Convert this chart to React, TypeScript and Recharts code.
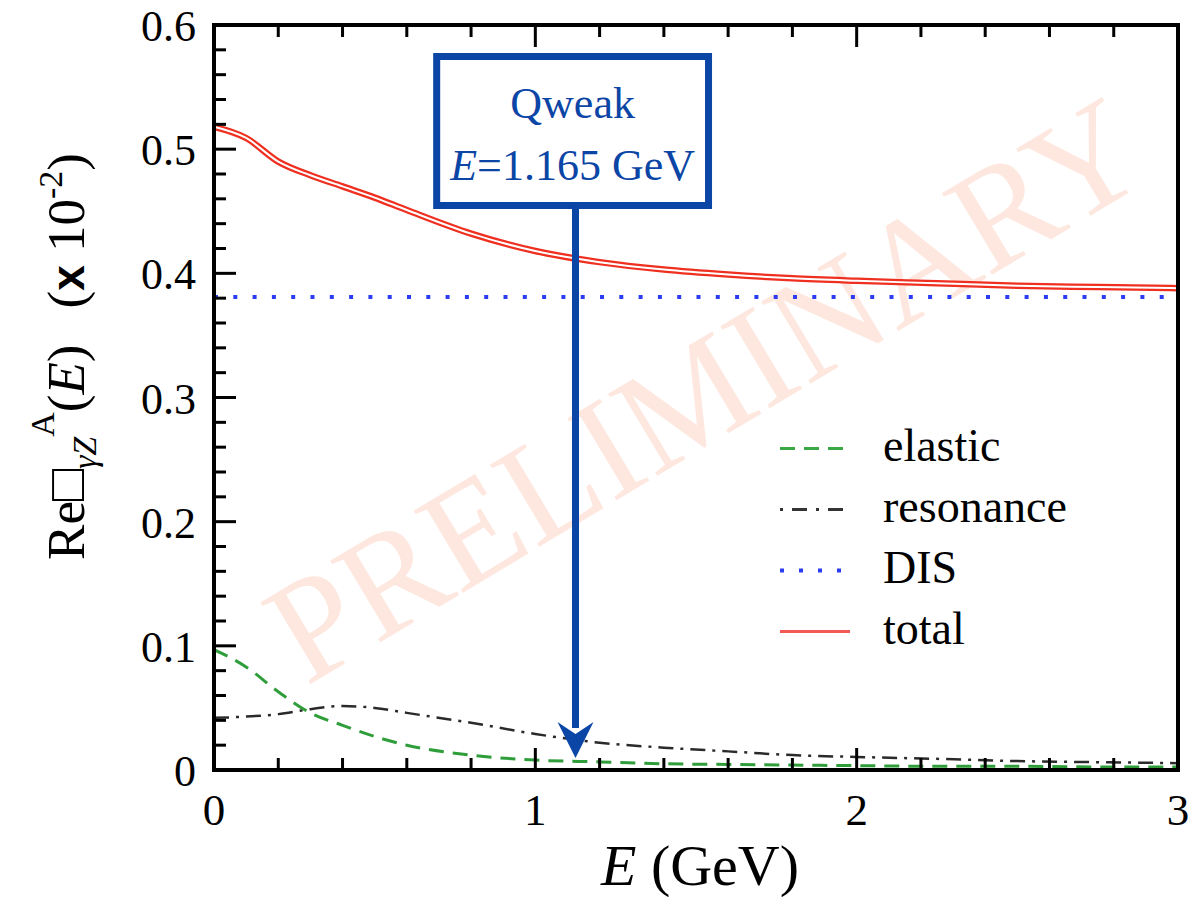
import React from 'react'
import {
  LineChart,
  Line,
  XAxis,
  YAxis,
  Legend,
  ReferenceArea,
  ReferenceLine,
} from 'recharts'

// Re box_gammaZ^A(E) contributions, in units of 1e-2
const E_GEV = [0, 0.1, 0.2, 0.3, 0.4, 0.5, 0.6, 0.8, 1.0, 1.2, 1.4, 1.6, 1.8, 2.0, 2.25, 2.5, 2.75, 3.0]
const ELASTIC = [0.097, 0.083, 0.063, 0.046, 0.036, 0.027, 0.02, 0.012, 0.008, 0.0065, 0.005, 0.0045, 0.004, 0.0035, 0.003, 0.003, 0.0025, 0.0025]
const RESONANCE = [0.042, 0.043, 0.045, 0.049, 0.0515, 0.05, 0.046, 0.038, 0.029, 0.022, 0.018, 0.015, 0.012, 0.0105, 0.009, 0.0072, 0.0063, 0.0055]
const DIS = [0.381, 0.381, 0.381, 0.381, 0.381, 0.381, 0.381, 0.381, 0.381, 0.381, 0.381, 0.381, 0.381, 0.381, 0.381, 0.381, 0.381, 0.381]
const TOTAL = [0.518, 0.509, 0.49, 0.479, 0.47, 0.461, 0.451, 0.432, 0.418, 0.409, 0.403, 0.399, 0.396, 0.394, 0.392, 0.39, 0.389, 0.388]

const X_TICKS = [0, 0.2, 0.4, 0.6, 0.8, 1, 1.2, 1.4, 1.6, 1.8, 2, 2.2, 2.4, 2.6, 2.8, 3]
const Y_TICKS = [
  0, 0.02, 0.04, 0.06, 0.08, 0.1, 0.12, 0.14, 0.16, 0.18, 0.2, 0.22, 0.24, 0.26, 0.28, 0.3,
  0.32, 0.34, 0.36, 0.38, 0.4, 0.42, 0.44, 0.46, 0.48, 0.5, 0.52, 0.54, 0.56, 0.58, 0.6,
]

// Qweak annotation (box + arrow), data coords
const QWEAK_E = 1.125
const QWEAK_BOX = { x1: 0.693, x2: 1.539, y1: 0.4546, y2: 0.5746 }
const QWEAK_TIP = 0.0097

const data = E_GEV.map((e, i) => ({
  E: e,
  elastic: ELASTIC[i],
  resonance: RESONANCE[i],
  dis: DIS[i],
  total: TOTAL[i],
}))

const SERIF = '"Liberation Serif", "Times New Roman", serif'
const BLUE = '#0b45a6'
const RED = '#ef2f1f'

const LEGEND_ITEMS = [
  { label: 'elastic', color: '#3aa845', dash: '15 9', width: 3 },
  { label: 'resonance', color: '#333333', dash: '3 9 15 9', width: 3 },
  { label: 'DIS', color: '#2c3cf2', dash: '4 15', width: 4 },
  { label: 'total', color: '#f45a55', dash: undefined, width: 3 },
]

const isMajor = (v: number, step: number) => Math.abs(v / step - Math.round(v / step)) < 1e-6

// inward tick marks; labels only on bottom/left
// eslint-disable-next-line @typescript-eslint/no-explicit-any
function TickMark(props: any) {
  const { x, y, payload, side } = props
  const v = payload.value as number
  const major = side === 'bottom' || side === 'top' ? isMajor(v, 1) : isMajor(v, 0.1)
  const len = major ? 22 : 12
  const ln = { stroke: '#000', strokeWidth: 3 }
  if (side === 'bottom') {
    return (
      <g>
        <line x1={x} y1={y} x2={x} y2={y - len} {...ln} />
        {major && (
          <text x={x} y={y + 55} textAnchor="middle" fontFamily={SERIF} fontSize={45} fill="#000">
            {v}
          </text>
        )}
      </g>
    )
  }
  if (side === 'top') return <line x1={x} y1={y} x2={x} y2={y + len} {...ln} />
  if (side === 'right') return <line x1={x} y1={y} x2={x - len} y2={y} {...ln} />
  return (
    <g>
      <line x1={x} y1={y} x2={x + len} y2={y} {...ln} />
      {major && (
        <text x={x - 18} y={y + 16} textAnchor="end" fontFamily={SERIF} fontSize={44} fill="#000">
          {v === 0 ? '0' : v.toFixed(1)}
        </text>
      )}
    </g>
  )
}

// eslint-disable-next-line @typescript-eslint/no-explicit-any
function YLabel(props: any) {
  const vb = props.viewBox || { x: 213, y: 26, height: 744 }
  const cx = vb.x - 129
  const cy = vb.y + vb.height / 2 - 41
  return (
    <text
      x={cx}
      y={cy}
      transform={`rotate(-90, ${cx}, ${cy})`}
      textAnchor="middle"
      fontFamily={SERIF}
      fontSize={53}
      fill="#000"
    >
      <tspan>Re□</tspan>
      <tspan fontStyle="italic" fontSize={34} dy={12}>γZ</tspan>
      <tspan fontSize={34} dy={-42}>A</tspan>
      <tspan dy={30}>(</tspan>
      <tspan fontStyle="italic">E</tspan>
      <tspan>)</tspan>
      <tspan dx={36}>(</tspan>
      <tspan fontWeight="bold" fontFamily='"Liberation Sans", Arial, sans-serif' fontSize={46}>x</tspan>
      <tspan> 10</tspan>
      <tspan fontSize={34} dy={-22}>-2</tspan>
      <tspan dy={22}>)</tspan>
    </text>
  )
}

// eslint-disable-next-line @typescript-eslint/no-explicit-any
function XLabel(props: any) {
  const vb = props.viewBox || { x: 214, y: 770, width: 964 }
  return (
    <text x={vb.x + vb.width / 2 + 4} y={vb.y + 115} textAnchor="middle" fontFamily={SERIF} fontSize={58} fill="#000">
      <tspan fontStyle="italic">E</tspan>
      <tspan> (GeV)</tspan>
    </text>
  )
}

// eslint-disable-next-line @typescript-eslint/no-explicit-any
function BoxLabel(props: any) {
  const { x, y, width, height } = props.viewBox
  const cx = x + width / 2
  return (
    <g fontFamily={SERIF} fontSize={44} fill={BLUE}>
      <text x={cx} y={y + height * 0.41} textAnchor="middle">Qweak</text>
      <text x={cx} y={y + height * 0.83} textAnchor="middle">
        <tspan fontStyle="italic">E</tspan>
        <tspan>=1.165 GeV</tspan>
      </text>
    </g>
  )
}

// eslint-disable-next-line @typescript-eslint/no-explicit-any
function Arrow(props: any) {
  const { x1, y1, y2 } = props
  const head = 36
  return (
    <g>
      <line x1={x1} y1={y1} x2={x1} y2={y2 - head + 6} stroke={BLUE} strokeWidth={7} />
      <polygon
        points={`${x1 - 18},${y2 - head} ${x1},${y2 - head + 12} ${x1 + 18},${y2 - head} ${x1},${y2}`}
        fill={BLUE}
      />
    </g>
  )
}

function LegendBox() {
  return (
    <div style={{ fontFamily: SERIF, fontSize: 46, color: '#000' }}>
      {LEGEND_ITEMS.map(it => (
        <div key={it.label} style={{ display: 'flex', alignItems: 'center', height: 61 }}>
          <svg width={105} height={61} style={{ display: 'block' }}>
            <line x1={2} y1={30.5} x2={72} y2={30.5} stroke={it.color} strokeWidth={it.width} strokeDasharray={it.dash} />
          </svg>
          <span style={{ lineHeight: '61px', marginTop: -6 }}>{it.label}</span>
        </div>
      ))}
    </div>
  )
}

export default function App() {
  const axisLine = { stroke: '#000', strokeWidth: 4, strokeLinecap: 'square' as const }
  return (
    <div style={{ position: 'absolute', left: 0, top: 0, width: 1189, height: 897, background: '#fff', overflow: 'hidden' }}>
      {/* watermark */}
      <div
        style={{
          position: 'absolute',
          left: 705,
          top: 390,
          transform: 'translate(-50%, -50%) rotate(-31deg)',
          fontFamily: SERIF,
          fontSize: 146,
          color: '#fde7df',
          whiteSpace: 'nowrap',
          lineHeight: 1,
        }}
      >
        PRELIMINARY
      </div>
      <div style={{ position: 'absolute', left: 0, top: 0 }}>
        <LineChart width={1189} height={897} data={data} margin={{ top: 24, right: 10, bottom: 126, left: 213 }}>
          <XAxis
            xAxisId="b"
            dataKey="E"
            type="number"
            domain={[0, 3]}
            ticks={X_TICKS}
            interval={0}
            height={1}
            tickSize={0}
            tickMargin={0}
            tickLine={false}
            axisLine={axisLine}
            tick={<TickMark side="bottom" />}
            label={<XLabel />}
          />
          <XAxis
            xAxisId="t"
            orientation="top"
            dataKey="E"
            type="number"
            domain={[0, 3]}
            ticks={X_TICKS}
            interval={0}
            height={1}
            tickSize={0}
            tickMargin={0}
            tickLine={false}
            axisLine={axisLine}
            tick={<TickMark side="top" />}
          />
          <YAxis
            yAxisId="l"
            type="number"
            domain={[0, 0.6]}
            ticks={Y_TICKS}
            interval={0}
            width={1}
            tickSize={0}
            tickMargin={0}
            tickLine={false}
            axisLine={axisLine}
            tick={<TickMark side="left" />}
            label={<YLabel />}
          />
          <YAxis
            yAxisId="r"
            orientation="right"
            type="number"
            domain={[0, 0.6]}
            ticks={Y_TICKS}
            interval={0}
            width={1}
            tickSize={0}
            tickMargin={0}
            tickLine={false}
            axisLine={axisLine}
            tick={<TickMark side="right" />}
          />

          <Legend layout="vertical" align="center" verticalAlign="middle" content={<LegendBox />}
            wrapperStyle={{ position: 'absolute', left: 778, top: 418, bottom: 'auto', width: 'auto', height: 'auto' }} />

          <Line xAxisId="b" yAxisId="l" type="monotone" dataKey="dis" name="DIS" stroke="#2c3cf2" strokeWidth={4} strokeDasharray="4 15.3" dot={false} activeDot={false} isAnimationActive={false} />
          <Line xAxisId="b" yAxisId="l" type="monotone" dataKey="resonance" name="resonance" stroke="#2a2a2a" strokeWidth={2.5} strokeDasharray="15 7 3 7" dot={false} activeDot={false} isAnimationActive={false} />
          <Line xAxisId="b" yAxisId="l" type="monotone" dataKey="elastic" name="elastic" stroke="#2f9e3a" strokeWidth={3} strokeDasharray="15 9" dot={false} activeDot={false} isAnimationActive={false} />
          <Line xAxisId="b" yAxisId="l" type="monotone" dataKey="total" name="total" stroke={RED} strokeWidth={6.5} dot={false} activeDot={false} isAnimationActive={false} />
          <Line xAxisId="b" yAxisId="l" type="monotone" dataKey="total" name="total-inner" stroke="#ffffff" strokeWidth={2} dot={false} activeDot={false} isAnimationActive={false} legendType="none" />

          <ReferenceLine
            xAxisId="b"
            yAxisId="l"
            segment={[{ x: QWEAK_E, y: QWEAK_BOX.y1 }, { x: QWEAK_E, y: QWEAK_TIP }]}
            shape={<Arrow />}
            ifOverflow="visible"
          />
          <ReferenceArea
            xAxisId="b"
            yAxisId="l"
            x1={QWEAK_BOX.x1}
            x2={QWEAK_BOX.x2}
            y1={QWEAK_BOX.y1}
            y2={QWEAK_BOX.y2}
            fill="#ffffff"
            fillOpacity={1}
            stroke={BLUE}
            strokeWidth={7}
            ifOverflow="visible"
            label={<BoxLabel />}
          />
        </LineChart>
      </div>
    </div>
  )
}
